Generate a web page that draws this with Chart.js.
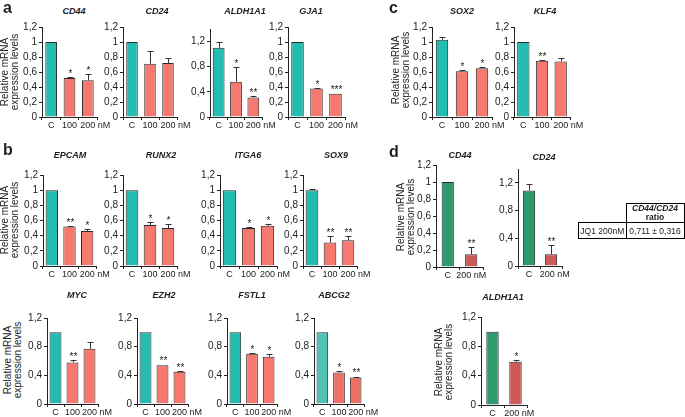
<!DOCTYPE html>
<html>
<head>
<meta charset="utf-8">
<script src="https://cdn.jsdelivr.net/npm/chart.js@4/dist/chart.umd.min.js"></script>
<style>
  body { margin: 0; background: #fff; }
  #page { position: relative; width: 685px; height: 417px; overflow: hidden; font-family: 'Liberation Sans', Arial, sans-serif; color: #222; }
  canvas { position: absolute; }
  .title { position: absolute; font: bold italic 9px 'Liberation Sans', Arial, sans-serif; transform: translate(-50%, -50%); white-space: nowrap; }
  .letter { position: absolute; font: bold 16px 'Liberation Sans', Arial, sans-serif; line-height: 16px; }
  .ylab { position: absolute; font-size: 10px; line-height: 10px; text-align: center; white-space: nowrap; transform: translate(-50%, -50%) rotate(-90deg); }
  table { position: absolute; left: 578px; top: 203px; border-collapse: collapse; font-size: 8.5px; }
  td { border: 1px solid #000; padding: 0; text-align: center; white-space: nowrap; }
</style>
</head>
<body>
<div id="page"></div>
<script>
// category labels
const cats3 = ['C', '100', '      200 nM'];
const catsD = ['C', '200 nM'];
const catsD2 = ['C', '   200 nM'];

// a
const cd44Vals = [1, 0.52, 0.49];
const cd44Err = [1, 0.53, 0.57];
const cd44Stars = ['', '*', '*'];
const cd24Vals = [1, 0.71, 0.72];
const cd24Err = [1, 0.88, 0.79];
const aldhVals = [1.10, 0.56, 0.31];
const aldhErr = [1.19, 0.79, 0.33];
const aldhStars = ['', '*', '**'];
const gja1Vals = [1, 0.38, 0.31];
const gja1Err = [1, 0.39, 0.31];
const gja1Stars = ['', '*', '***'];
// c
const sox2Vals = [1.03, 0.61, 0.65];
const sox2Err = [1.06, 0.62, 0.66];
const sox2Stars = ['', '*', '*'];
const klf4Vals = [1, 0.75, 0.74];
const klf4Err = [1, 0.76, 0.79];
const klf4Stars = ['', '**', ''];
// b
const epcamVals = [1, 0.52, 0.46];
const epcamErr = [1, 0.53, 0.49];
const epcamStars = ['', '**', '*'];
const runx2Vals = [1, 0.54, 0.50];
const runx2Err = [1, 0.58, 0.56];
const runx2Stars = ['', '*', '*'];
const itga6Vals = [1, 0.50, 0.53];
const itga6Err = [1, 0.51, 0.56];
const itga6Stars = ['', '*', '*'];
const sox9Vals = [1, 0.31, 0.34];
const sox9Err = [1.01, 0.40, 0.40];
const sox9Stars = ['', '**', '**'];
const mycVals = [1, 0.58, 0.77];
const mycErr = [1, 0.61, 0.87];
const mycStars = ['', '**', ''];
const ezh2Vals = [1, 0.54, 0.45];
const ezh2Err = [1, 0.54, 0.46];
const ezh2Stars = ['', '**', '**'];
const fstl1Vals = [1, 0.70, 0.66];
const fstl1Err = [1, 0.71, 0.70];
const fstl1Stars = ['', '*', '*'];
const abcg2Vals = [1, 0.44, 0.37];
const abcg2Err = [1, 0.46, 0.38];
const abcg2Stars = ['', '*', '**'];
// d
const dCd44Vals = [1, 0.15];
const dCd44Err = [1, 0.23];
const dCd24Vals = [1.09, 0.17];
const dCd24Err = [1.19, 0.31];
const dAldhVals = [1, 0.59];
const dAldhErr = [1, 0.62];

const FONT = "'Liberation Sans', Arial, sans-serif";
const TEAL = '#22bdb0', SALMON = '#f6786f';
const TEAL2 = '#4fc4b6', SALMON2 = '#ec7066';
const GREEN = '#2f9a6d', BRICK = '#cc5b58';
const tri = [TEAL, SALMON, SALMON];

const panels = [
  { title: 'CD44', labels: cats3, vals: cd44Vals, err: cd44Err, stars: cd44Stars, max: 1.2, x0: 42, x1: 97, yt: 27, yb: 117, tx: 74, ty: 11, fill: tri, bp: 0.64 },
  { title: 'CD24', labels: cats3, vals: cd24Vals, err: cd24Err, stars: ['', '', ''], max: 1.2, x0: 123, x1: 177, yt: 27, yb: 117, tx: 157, ty: 11, fill: tri, bp: 0.64 },
  { title: 'ALDH1A1', labels: cats3, vals: aldhVals, err: aldhErr, stars: aldhStars, max: 1.4, x0: 210, x1: 262, yt: 29, yb: 117, tx: 245, ty: 11, fill: tri, bp: 0.68 },
  { title: 'GJA1', labels: cats3, vals: gja1Vals, err: gja1Err, stars: gja1Stars, max: 1.2, x0: 288, x1: 345, yt: 27, yb: 117, tx: 311, ty: 11, fill: tri, bp: 0.66 },
  { title: 'SOX2', labels: cats3, vals: sox2Vals, err: sox2Err, stars: sox2Stars, max: 1.2, x0: 432, x1: 492, yt: 27, yb: 117, tx: 462, ty: 11, fill: tri, bp: 0.62 },
  { title: 'KLF4', labels: cats3, vals: klf4Vals, err: klf4Err, stars: klf4Stars, max: 1.2, x0: 514, x1: 570, yt: 27, yb: 117, tx: 545, ty: 11, fill: tri, bp: 0.66 },

  { title: 'EPCAM', labels: cats3, vals: epcamVals, err: epcamErr, stars: epcamStars, max: 1.2, x0: 43, x1: 96, yt: 175, yb: 266, tx: 70, ty: 155, fill: tri, bp: 0.7 },
  { title: 'RUNX2', labels: cats3, vals: runx2Vals, err: runx2Err, stars: runx2Stars, max: 1.2, x0: 123, x1: 177, yt: 175, yb: 266, tx: 161, ty: 155, fill: tri, bp: 0.7 },
  { title: 'ITGA6', labels: cats3, vals: itga6Vals, err: itga6Err, stars: itga6Stars, max: 1.2, x0: 220, x1: 277, yt: 175, yb: 266, tx: 248, ty: 155, fill: tri, bp: 0.7 },
  { title: 'SOX9', labels: cats3, vals: sox9Vals, err: sox9Err, stars: sox9Stars, max: 1.2, x0: 303, x1: 357, yt: 175, yb: 266, tx: 336, ty: 155, fill: tri, bp: 0.7 },

  { title: 'MYC', labels: cats3, vals: mycVals, err: mycErr, stars: mycStars, max: 1.2, x0: 47, x1: 98, yt: 318, yb: 404, tx: 77, ty: 295, fill: tri, bp: 0.7 },
  { title: 'EZH2', labels: cats3, vals: ezh2Vals, err: ezh2Err, stars: ezh2Stars, max: 1.2, x0: 137, x1: 188, yt: 318, yb: 404, tx: 164, ty: 295, fill: tri, bp: 0.7 },
  { title: 'FSTL1', labels: cats3, vals: fstl1Vals, err: fstl1Err, stars: fstl1Stars, max: 1.2, x0: 227, x1: 277, yt: 318, yb: 404, tx: 252, ty: 295, fill: tri, bp: 0.7 },
  { title: 'ABCG2', labels: cats3, vals: abcg2Vals, err: abcg2Err, stars: abcg2Stars, max: 1.2, x0: 314, x1: 364, yt: 318, yb: 404, tx: 334, ty: 295, fill: [TEAL2, SALMON2, SALMON2], bp: 0.7 },

  { title: 'CD44', labels: catsD, vals: dCd44Vals, err: dCd44Err, stars: ['', '**'], max: 1.2, x0: 436, x1: 483, yt: 165, yb: 267, tx: 460, ty: 155, fill: [GREEN, BRICK], bp: 0.52 },
  { title: 'CD24', labels: catsD2, vals: dCd24Vals, err: dCd24Err, stars: ['', '**'], max: 1.4, x0: 518, x1: 562, yt: 169, yb: 266, tx: 544, ty: 157, fill: [GREEN, BRICK], bp: 0.56 },
  { title: 'ALDH1A1', labels: catsD2, vals: dAldhVals, err: dAldhErr, stars: ['', '*'], max: 1.2, x0: 481, x1: 527, yt: 317, yb: 405, tx: 503, ty: 297, fill: [GREEN, BRICK], bp: 0.54 },
];

const yLabels = [[10, 72], [10, 220], [13, 360], [401, 70], [406, 217], [444, 362]];
const letters = [['a', 3, 0], ['b', 3, 142], ['c', 389, 0], ['d', 389, 144]];

const page = document.getElementById('page');

const fmt = v => String(Math.round(v * 10) / 10).replace('.', ',');

const errBars = {
  id: 'errBars',
  afterDatasetsDraw(chart) {
    const o = chart.options.plugins.errBars;
    const ctx = chart.ctx;
    const y = chart.scales.y;
    ctx.save();
    ctx.strokeStyle = '#333';
    ctx.lineWidth = 1;
    ctx.fillStyle = '#222';
    ctx.font = '10px ' + FONT;
    ctx.textAlign = 'center';
    chart.getDatasetMeta(0).data.forEach((bar, i) => {
      const cx = Math.round(bar.x) + 0.5;
      const top = Math.round(y.getPixelForValue(o.err[i])) + 0.5;
      if (o.err[i] > o.vals[i] + 0.005) {
        ctx.beginPath();
        ctx.moveTo(cx, bar.y);
        ctx.lineTo(cx, top);
        ctx.moveTo(cx - 3, top);
        ctx.lineTo(cx + 3, top);
        ctx.stroke();
      }
      if (o.stars[i]) ctx.fillText(o.stars[i], cx, Math.min(top, bar.y) - 1);
    });
    ctx.restore();
  }
};

const YW = 24, XH = 13, PT = 8, PR = 32;

panels.forEach(p => {
  const cv = document.createElement('canvas');
  const left = p.x0 - YW, top = p.yt - PT;
  const w = (p.x1 - p.x0) + YW + PR, h = (p.yb - top) + XH + 1;
  cv.width = w; cv.height = h;
  cv.style.left = left + 'px'; cv.style.top = top + 'px';
  cv.style.width = w + 'px'; cv.style.height = h + 'px';
  page.appendChild(cv);

  new Chart(cv, {
    type: 'bar',
    data: {
      labels: p.labels,
      datasets: [{
        data: p.vals,
        backgroundColor: p.fill,
        borderColor: '#2a2a2a',
        borderWidth: 1,
        categoryPercentage: 1,
        barPercentage: p.bp,
      }]
    },
    options: {
      responsive: false,
      animation: false,
      devicePixelRatio: 1,
      layout: { padding: { left: 0, top: PT, right: PR, bottom: 1 } },
      plugins: {
        legend: { display: false },
        tooltip: { enabled: false },
        errBars: { vals: p.vals, err: p.err, stars: p.stars },
      },
      scales: {
        y: {
          min: 0, max: p.max,
          ticks: { stepSize: 0.2, color: '#222', padding: 2, font: { family: FONT, size: 10 }, callback: fmt },
          grid: { drawOnChartArea: false, tickLength: 3, color: '#222' },
          border: { color: '#222' },
          afterFit: s => { s.width = YW; },
        },
        x: {
          ticks: { color: '#222', padding: 0, maxRotation: 0, autoSkip: false, font: { family: FONT, size: 9 } },
          grid: { drawOnChartArea: false, tickLength: 3, color: '#222', offset: true },
          border: { color: '#222' },
          afterFit: s => { s.height = XH; },
        }
      }
    },
    plugins: [errBars]
  });

  const t = document.createElement('div');
  t.className = 'title';
  t.textContent = p.title;
  t.style.left = p.tx + 'px'; t.style.top = p.ty + 'px';
  page.appendChild(t);
});

yLabels.forEach(([x, y]) => {
  const d = document.createElement('div');
  d.className = 'ylab';
  d.innerHTML = 'Relative mRNA<br>expression levels';
  d.style.left = x + 'px'; d.style.top = y + 'px';
  page.appendChild(d);
});

letters.forEach(([s, x, y]) => {
  const d = document.createElement('div');
  d.className = 'letter';
  d.textContent = s;
  d.style.left = x + 'px'; d.style.top = y + 'px';
  page.appendChild(d);
});

// CD44/CD24 ratio table in panel d
const tbl = document.createElement('table');
tbl.innerHTML =
  '<tr><td style="border:none;border-bottom:1px solid #000;border-right:1px solid #000;width:47px"></td>' +
  '<td style="width:57px;height:17px;font-weight:bold;line-height:9px"><i>CD44/CD24</i><br>ratio</td></tr>' +
  '<tr><td style="height:15px">JQ1 200nM</td><td>0,711 ± 0,316</td></tr>';
page.appendChild(tbl);
</script>
</body>
</html>
